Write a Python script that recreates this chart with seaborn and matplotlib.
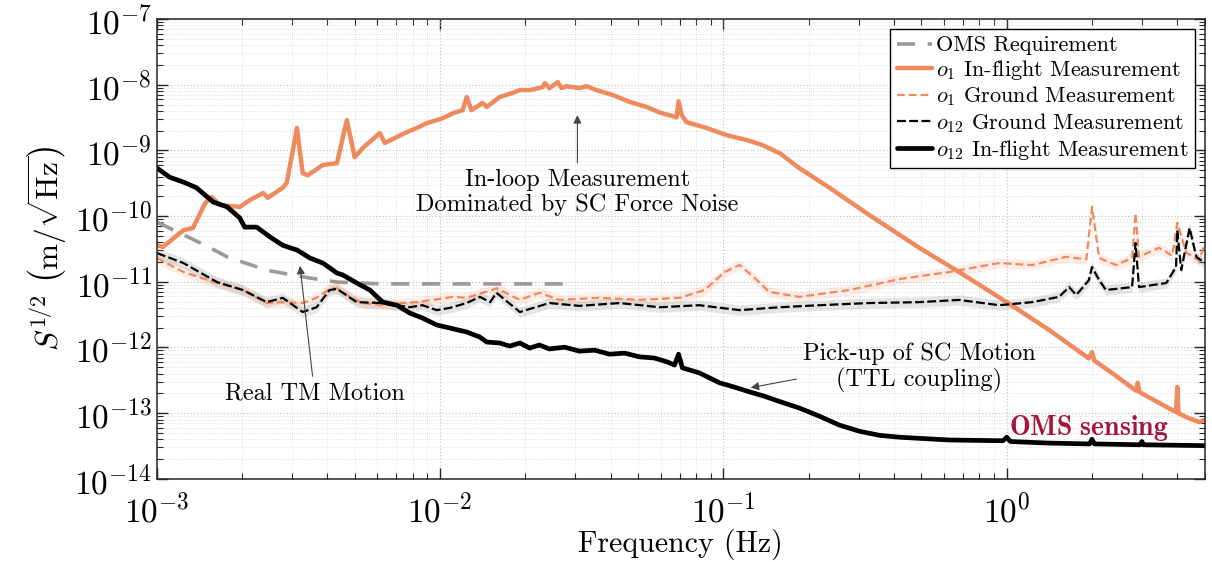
import numpy as np
import pandas as pd
import seaborn as sns
import matplotlib.pyplot as plt
from matplotlib.ticker import LogLocator, NullFormatter

# OMS requirement (grey dashed)
oms_f = [1.0e-3, 1.24e-3, 1.5e-3, 1.77e-3, 2.44e-3, 3.47e-3, 4.32e-3, 6.27e-3, 3.0e-2]
oms_asd = [8.1e-11, 5.2e-11, 3.5e-11, 2.4e-11, 1.5e-11, 1.14e-11, 9.9e-12, 9.3e-12, 9.3e-12]

# o1 in-flight (orange solid)
o1_flight_f = [1.0e-3, 1.05e-3, 1.24e-3, 1.34e-3, 1.48e-3, 1.56e-3, 1.67e-3, 1.96e-3, 2.13e-3,
               2.37e-3, 2.46e-3, 2.78e-3, 2.87e-3, 3.02e-3, 3.12e-3, 3.27e-3, 3.41e-3, 3.85e-3,
               4.32e-3, 4.68e-3, 4.99e-3, 5.33e-3, 6.12e-3, 6.37e-3, 7.03e-3, 7.62e-3, 8.26e-3,
               8.96e-3, 1.02e-2, 1.11e-2, 1.20e-2, 1.24e-2, 1.29e-2, 1.41e-2, 1.46e-2, 1.62e-2,
               1.80e-2, 1.91e-2, 2.07e-2, 2.30e-2, 2.34e-2, 2.43e-2, 2.60e-2, 2.68e-2, 2.79e-2,
               3.10e-2, 3.29e-2, 3.56e-2, 4.06e-2, 4.66e-2, 5.35e-2, 5.94e-2, 6.83e-2, 6.94e-2,
               7.11e-2, 7.40e-2, 8.71e-2, 0.103, 0.121, 0.137, 0.158, 0.185, 0.237, 0.327,
               0.491, 0.679, 1.0, 1.41, 1.95, 2.0, 2.04, 2.43, 2.86, 2.9, 2.94, 3.92, 3.96,
               4.0, 4.04, 4.3, 4.78, 5.0]
o1_flight_asd = [3.6e-11, 3.4e-11, 6.1e-11, 6.6e-11, 1.58e-10, 1.95e-10, 1.48e-10, 1.38e-10, 1.76e-10,
                 2.25e-10, 1.9e-10, 2.7e-10, 3.2e-10, 1.01e-9, 2.2e-9, 4.5e-10, 4.2e-10, 6.0e-10,
                 6.4e-10, 2.9e-9, 7.9e-10, 1.09e-9, 1.84e-9, 1.3e-9, 1.6e-9, 1.9e-9, 2.2e-9,
                 2.6e-9, 3.1e-9, 3.7e-9, 4.1e-9, 6.5e-9, 4.1e-9, 5.3e-9, 4.6e-9, 6.5e-9,
                 7.5e-9, 8.3e-9, 8.3e-9, 9.2e-9, 1.06e-8, 8.9e-9, 1.1e-8, 8.9e-9, 9.5e-9,
                 8.9e-9, 9.5e-9, 8.3e-9, 7.0e-9, 5.5e-9, 4.6e-9, 3.8e-9, 3.2e-9, 5.6e-9,
                 3.5e-9, 2.7e-9, 2.2e-9, 1.7e-9, 1.44e-9, 1.21e-9, 9.1e-10, 5.4e-10, 2.7e-10, 1.04e-10,
                 3.3e-11, 1.41e-11, 4.9e-12, 1.85e-12, 6.8e-13, 8.5e-13, 6.3e-13, 3.7e-13, 2.2e-13, 2.9e-13, 2.1e-13,
                 1.06e-13, 1.04e-13, 2.5e-13, 1.0e-13, 8.7e-14, 7.3e-14, 7.9e-14]

# o1 ground (orange dashed)
o1_ground_f = [1.0e-3, 1.24e-3, 1.63e-3, 2.01e-3, 2.44e-3, 2.78e-3, 3.27e-3, 3.66e-3, 4.07e-3,
               4.32e-3, 4.8e-3, 5.33e-3, 6.27e-3, 7.38e-3, 8.26e-3, 9.42e-3, 1.11e-2, 1.24e-2,
               1.41e-2, 1.53e-2, 1.58e-2, 1.91e-2, 2.24e-2, 2.64e-2, 3.66e-2, 5.06e-2, 7.0e-2,
               8.57e-2, 0.101, 0.114, 0.129, 0.145, 0.185, 0.278, 0.418, 0.627, 0.94, 1.23,
               1.62, 1.91, 2.0, 2.12, 2.43, 2.77, 2.85, 2.93, 3.45, 3.84, 4.0, 4.3, 4.78, 5.0]
o1_ground_asd = [2.3e-11, 1.41e-11, 9.6e-12, 7.5e-12, 4.75e-12, 4.9e-12, 4.75e-12, 5.7e-12, 7.8e-12,
                 8.0e-12, 5.9e-12, 4.75e-12, 4.4e-12, 4.75e-12, 4.9e-12, 5.3e-12, 5.9e-12, 5.7e-12,
                 6.8e-12, 7.5e-12, 8.0e-12, 5.3e-12, 6.8e-12, 5.3e-12, 5.7e-12, 5.3e-12, 5.7e-12,
                 7.5e-12, 1.41e-11, 1.8e-11, 1.14e-11, 7.0e-12, 5.9e-12, 7.5e-12, 1.1e-11, 1.41e-11, 1.93e-11, 1.8e-11,
                 2.4e-11, 2.2e-11, 1.38e-10, 2.3e-11, 1.8e-11, 2.3e-11, 1.11e-10, 2.4e-11, 3.3e-11, 2.5e-11,
                 7.9e-11, 2.8e-11, 2.1e-11, 3.9e-11]

# o12 ground (black dashed)
o12_ground_f = [1.0e-3, 1.24e-3, 1.63e-3, 2.01e-3, 2.44e-3, 2.78e-3, 3.27e-3, 3.66e-3, 4.07e-3,
                4.32e-3, 5.07e-3, 6.27e-3, 7.8e-3, 8.67e-3, 9.72e-3, 1.08e-2, 1.24e-2, 1.38e-2,
                1.5e-2, 1.58e-2, 1.91e-2, 2.43e-2, 3.10e-2, 4.3e-2, 5.94e-2, 8.22e-2, 0.114,
                0.158, 0.218, 0.327, 0.491, 0.679, 0.94, 1.23, 1.53, 1.66, 1.76, 1.95, 2.0,
                2.12, 2.24, 2.77, 2.85, 2.93, 3.66, 3.96, 4.0, 4.13, 4.42, 4.67, 5.0]
o12_ground_asd = [2.74e-11, 1.93e-11, 9.9e-12, 7.5e-12, 4.9e-12, 5.7e-12, 3.47e-12, 4.1e-12, 7.5e-12,
                  7.8e-12, 4.9e-12, 4.75e-12, 4.1e-12, 4.4e-12, 3.7e-12, 4.0e-12, 4.75e-12, 5.9e-12,
                  4.9e-12, 6.8e-12, 3.47e-12, 4.75e-12, 4.3e-12, 4.75e-12, 4.1e-12, 4.4e-12, 3.7e-12,
                  4.1e-12, 4.4e-12, 4.75e-12, 4.9e-12, 5.3e-12, 4.4e-12, 4.9e-12, 5.9e-12, 8.3e-12, 6.3e-12, 1.06e-11, 1.68e-11,
                  1.06e-11, 7.5e-12, 8.3e-12, 3.9e-11, 8.3e-12, 9.6e-12, 1.68e-11, 6.1e-11, 1.51e-11, 6.6e-11, 2.4e-11, 1.93e-11]

# o12 in-flight (black solid)
o12_flight_f = [1.0e-3, 1.11e-3, 1.24e-3, 1.38e-3, 1.58e-3, 1.77e-3, 1.96e-3, 2.04e-3, 2.25e-3,
                2.51e-3, 2.78e-3, 3.12e-3, 3.47e-3, 3.85e-3, 4.32e-3, 4.53e-3, 5.07e-3, 5.64e-3,
                6.27e-3, 7.03e-3, 7.80e-3, 8.67e-3, 9.72e-3, 1.08e-2, 1.24e-2, 1.38e-2, 1.46e-2,
                1.62e-2, 1.76e-2, 1.91e-2, 2.07e-2, 2.24e-2, 2.43e-2, 2.75e-2, 3.10e-2, 3.51e-2,
                3.96e-2, 4.48e-2, 5.06e-2, 5.71e-2, 6.35e-2, 6.72e-2, 6.94e-2, 7.16e-2, 8.22e-2,
                9.68e-2, 0.109, 0.124, 0.140, 0.158, 0.185, 0.218, 0.256, 0.302, 0.355, 0.418,
                0.627, 0.97, 1.0, 1.03, 1.41, 1.96, 2.0, 2.04, 2.96, 3.0, 3.04, 5.0]
o12_flight_asd = [5.4e-10, 3.9e-10, 3.3e-10, 2.7e-10, 1.64e-10, 1.38e-10, 9.4e-11, 6.8e-11, 6.8e-11,
                  4.8e-11, 3.6e-11, 3.05e-11, 2.3e-11, 1.93e-11, 1.36e-11, 1.27e-11, 9.6e-12, 7.5e-12,
                  4.9e-12, 4.4e-12, 3.35e-12, 2.8e-12, 2.2e-12, 1.98e-12, 1.72e-12, 1.44e-12, 1.21e-12,
                  1.17e-12, 1.05e-12, 1.17e-12, 9.8e-13, 1.09e-12, 9.5e-13, 1.01e-12, 8.8e-13, 9.1e-13,
                  7.9e-13, 8.2e-13, 7.2e-13, 6.9e-13, 6.0e-13, 5.4e-13, 7.9e-13, 4.9e-13, 4.1e-13,
                  2.9e-13, 2.5e-13, 2.1e-13, 1.8e-13, 1.5e-13, 1.2e-13, 9.0e-14, 6.6e-14, 5.3e-14, 4.6e-14, 4.3e-14,
                  3.9e-14, 3.8e-14, 4.3e-14, 3.7e-14, 3.5e-14, 3.4e-14, 4.0e-14, 3.4e-14, 3.3e-14, 3.7e-14, 3.3e-14, 3.2e-14]

band = 1.2  # ground measurement uncertainty factor

orange = '#EF8A5E'
sns.set_style('ticks')
plt.rcParams['font.family'] = ['cmr10']
plt.rcParams['mathtext.fontset'] = 'cm'
plt.rcParams['axes.formatter.use_mathtext'] = True
plt.rcParams['axes.unicode_minus'] = False
plt.rcParams['text.color'] = 'black'
plt.rcParams['axes.labelcolor'] = 'black'

fig, ax = plt.subplots(figsize=(12.12, 5.62), dpi=100)
fig.subplots_adjust(left=0.1295, right=0.994, top=0.966, bottom=0.148)
ax.set_xscale('log')
ax.set_yscale('log')

# error bands of the ground measurements
ax.fill_between(o1_ground_f, np.array(o1_ground_asd) / band, np.array(o1_ground_asd) * band,
                color=orange, alpha=0.15, lw=0)
ax.fill_between(o12_ground_f, np.array(o12_ground_asd) / band, np.array(o12_ground_asd) * band,
                color='gray', alpha=0.2, lw=0)

sns.lineplot(x=oms_f, y=oms_asd, ax=ax, color='#9a9a9a', lw=2.6,
             linestyle=(0, (5, 3.5)), label='OMS Requirement')
sns.lineplot(x=o1_flight_f, y=o1_flight_asd, ax=ax, color=orange, lw=3.2,
             label=r'$o_1$ In-flight Measurement')
sns.lineplot(x=o1_ground_f, y=o1_ground_asd, ax=ax, color=orange, lw=1.6,
             linestyle=(0, (3.5, 1.8)), label=r'$o_1$ Ground Measurement')
sns.lineplot(x=o12_ground_f, y=o12_ground_asd, ax=ax, color='black', lw=1.6,
             linestyle=(0, (4, 1.5)), label=r'$o_{12}$ Ground Measurement')
sns.lineplot(x=o12_flight_f, y=o12_flight_asd, ax=ax, color='black', lw=3.4,
             label=r'$o_{12}$ In-flight Measurement')

ax.set_xlim(1e-3, 5)
ax.set_ylim(1e-14, 1e-7)
ax.yaxis.set_major_locator(LogLocator(base=10, numticks=20))
ax.yaxis.set_minor_locator(LogLocator(base=10, subs=np.arange(2, 10), numticks=20))
ax.yaxis.set_minor_formatter(NullFormatter())
ax.xaxis.set_minor_formatter(NullFormatter())

ax.grid(True, which='major', color='#c4c4c4', ls=':', lw=0.9)
ax.grid(True, which='minor', color='#d8d8d8', ls=':', lw=0.6)
ax.tick_params(which='both', direction='in', top=True, right=True, colors='#262626',
               labelcolor='black', labelsize=24)
ax.tick_params(which='major', length=8, width=1)
ax.tick_params(which='minor', length=4, width=0.8)
ax.tick_params(axis='x', which='major', pad=10)
for s in ax.spines.values():
    s.set_color('#262626')
    s.set_linewidth(1.1)

ax.set_xlabel('Frequency (Hz)', fontsize=21.5, labelpad=0)
ax.set_ylabel(r'$S^{1/2}\ \left(\mathrm{m}/\sqrt{\mathrm{Hz}}\right)$', fontsize=22.5, labelpad=4)

arrow = dict(arrowstyle='-|>', color='#444444', lw=0.8, mutation_scale=12)
ax.annotate('In-loop Measurement\nDominated by SC Force Noise', xy=(3.05e-2, 3.8e-9),
            xytext=(3.05e-2, 2.3e-10), ha='center', va='center', fontsize=17.5,
            linespacing=1.15, arrowprops=arrow)
ax.annotate('Real TM Motion', xy=(3.19e-3, 1.93e-11), xytext=(3.6e-3, 2.0e-13),
            ha='center', va='center', fontsize=17.5, arrowprops=arrow)
ax.annotate('Pick-up of SC Motion\n(TTL coupling)', xy=(0.122, 2.4e-13),
            xytext=(0.49, 4.9e-13), ha='center', va='center', fontsize=17.5,
            linespacing=1.15, arrowprops=dict(arrow, relpos=(0.0, 0.3)))
ax.text(1.95, 6.0e-14, r'$\mathbf{OMS\ sensing}$', color='#A3173D', fontsize=20,
        ha='center', va='center')

leg = ax.legend(loc='upper right', fontsize=16, frameon=True, fancybox=False,
                framealpha=1, edgecolor='black', handlelength=1.6, handletextpad=0.15,
                borderpad=0.3, labelspacing=0.12, borderaxespad=0.45)
leg.get_frame().set_linewidth(1.0)

fig.savefig('out.png', dpi=100)
